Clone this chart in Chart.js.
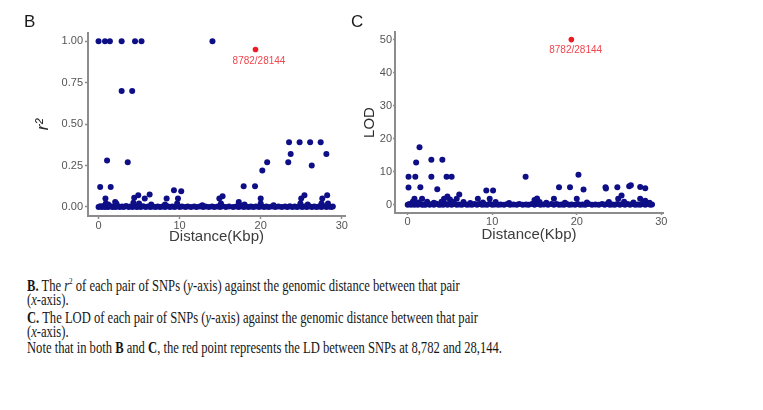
<!DOCTYPE html>
<html><head><meta charset="utf-8">
<script src="https://cdn.jsdelivr.net/npm/chart.js@4.4.1/dist/chart.umd.min.js"></script>
<style>
html,body{margin:0;padding:0;background:#fff;}
body{width:763px;height:410px;position:relative;overflow:hidden;font-family:"Liberation Sans",Arial,sans-serif;}
canvas{position:absolute;top:0;}
#cB{left:0;} #cC{left:360px;}
.pl{position:absolute;font-size:17px;color:#1a1a1a;line-height:20px;}
.cap{position:absolute;left:27px;font-family:"Liberation Serif","Times New Roman",serif;font-size:16px;line-height:16px;color:#161616;white-space:nowrap;transform-origin:0 50%;}
.cap sup{font-size:9px;vertical-align:7px;line-height:0;}
</style></head><body>
<canvas id="cB" width="360" height="250"></canvas>
<canvas id="cC" width="340" height="250"></canvas>
<div class="pl" style="left:24px;top:12px">B</div>
<div class="pl" style="left:351px;top:12px">C</div>
<div class="cap" style="top:278px"><b>B.</b> The <i>r</i><sup>2</sup> of each pair of SNPs (<i>y</i>-axis) against the genomic distance between that pair</div>
<div class="cap" style="top:292px">(<i>x</i>-axis).</div>
<div class="cap" style="top:310px"><b>C.</b> The LOD of each pair of SNPs (<i>y</i>-axis) against the genomic distance between that pair</div>
<div class="cap" style="top:324px">(<i>x</i>-axis).</div>
<div class="cap" style="top:340px">Note that in both <b>B</b> and <b>C</b>, the red point represents the LD between SNPs at 8,782 and 28,144.</div>
<script>
// ---- tick values / labels ----
const distTicks = [0, 10, 20, 30];
const r2Ticks = [0, 0.25, 0.5, 0.75, 1];
const r2TickLabels = ['0.00', '0.25', '0.50', '0.75', '1.00'];
const lodTicks = [0, 10, 20, 30, 40, 50];
const lodTickLabels = ['0', '10', '20', '30', '40', '50'];

// ---- highlighted pair ----
const redLabel = '8782/28144';
const redDist = [19.36];
const redR2 = [0.95];
const redLod = [50];

// ---- B: r^2, distinct points ----
const r2Dist = [0.0, 0.8, 1.4, 2.85, 4.5, 5.3, 14.05, 2.85, 4.15, 1.05, 3.6, 0.2, 1.5,
  0.85, 2.05, 4.4, 4.9, 5.7, 6.3, 8.4, 9.3, 10.2, 9.8, 14.9, 15.3, 17.3, 17.9, 19.3, 20.0,
  20.2, 20.8, 23.4, 23.7, 23.5, 24.8, 26.1, 27.4, 25.0, 25.4, 26.3, 27.6, 28.1, 28.2,
  0.9, 1.2, 2.2, 4.3, 5.0, 6.5, 8.2, 9.7, 12.8, 15.1, 17.3, 18.0, 20.0, 21.6, 24.9, 25.8, 27.5, 28.3];
const r2Val = [1.0, 1.0, 1.0, 1.0, 1.0, 1.0, 1.0, 0.70, 0.70, 0.28, 0.27, 0.12, 0.12,
  0.05, 0.03, 0.055, 0.07, 0.05, 0.075, 0.05, 0.10, 0.095, 0.05, 0.05, 0.065, 0.03, 0.125, 0.125, 0.05,
  0.22, 0.27, 0.27, 0.32, 0.39, 0.39, 0.39, 0.39, 0.05, 0.07, 0.25, 0.05, 0.32, 0.07,
  0.02, 0.015, 0.02, 0.025, 0.02, 0.015, 0.015, 0.02, 0.01, 0.02, 0.015, 0.015, 0.02, 0.01, 0.02, 0.015, 0.02, 0.02];

// ---- C: LOD, distinct points ----
const lodDist = [0.1, 0.9, 0.1, 1.0, 1.4, 1.5, 0.8, 1.7, 2.8, 2.8, 3.5, 4.1, 4.6, 5.2, 4.3, 4.7, 5.0,
  6.1, 5.8, 8.3, 9.3, 10.1, 9.7, 13.95, 15.0, 15.3, 17.3, 17.9, 19.2, 20.2, 20.0, 20.8,
  23.4, 23.45, 24.8, 24.9, 25.3, 26.2, 26.4, 27.5, 28.1, 27.5, 28.1,
  0.6, 1.3, 2.3, 3.1, 4.0, 5.4, 6.6, 7.4, 8.9, 10.4, 12.0, 15.6, 16.4, 18.6, 21.2, 23.8, 25.6, 26.7, 27.9, 28.6];
const lodVal = [8.5, 8.5, 5.2, 12.8, 17.4, 5.3, 1.8, 1.8, 13.6, 8.5, 4.7, 13.6, 8.5, 8.5, 1.8, 2.5, 1.6,
  3.1, 1.8, 1.8, 4.3, 4.3, 1.8, 8.5, 1.4, 1.9, 1.8, 5.3, 5.3, 9.1, 1.8, 4.6,
  5.3, 4.9, 5.3, 1.8, 2.8, 5.6, 5.9, 5.4, 5.0, 1.8, 1.2,
  0.9, 0.7, 0.9, 0.6, 0.9, 0.8, 0.8, 0.5, 0.7, 0.8, 0.5, 0.8, 0.6, 0.6, 0.7, 0.8, 0.9, 0.7, 0.8, 0.6];

// ---- dense band of pairs near zero (both panels) ----
const bandDist = [0.0, 0.2, 0.4, 0.6, 0.8, 1.0, 1.2, 1.4, 1.7, 1.9,
  2.1, 2.4, 2.6, 2.9, 3.1, 3.4, 3.7, 3.9, 4.2, 4.4,
  4.7, 4.9, 5.2, 5.5, 5.8, 6.1, 6.4, 6.7, 7.0, 7.3,
  7.6, 7.9, 8.2, 8.5, 8.8, 9.1, 9.4, 9.7, 10.0, 10.3,
  10.7, 11.0, 11.4, 11.8, 12.1, 12.5, 12.9, 13.2, 13.6, 14.0,
  14.3, 14.7, 15.0, 15.3, 15.7, 16.1, 16.6, 17.0, 17.3, 17.6,
  17.9, 18.2, 18.5, 18.8, 19.1, 19.4, 19.8, 20.1, 20.4, 20.7,
  21.0, 21.4, 21.8, 22.2, 22.6, 23.0, 23.3, 23.6, 23.9, 24.2,
  24.5, 24.8, 25.1, 25.4, 25.7, 26.0, 26.3, 26.6, 26.9, 27.2,
  27.5, 27.8, 28.1, 28.4, 28.7, 28.9];
const r2BandVal = [0, 0.004, 0, 0.006, 0, 0.003, 0, 0.005, 0, 0.002,
  0, 0.004, 0, 0.003, 0, 0.005, 0, 0.002, 0, 0.006,
  0, 0.003, 0, 0.004, 0, 0.002, 0, 0.003, 0, 0.002,
  0, 0.003, 0, 0.004, 0, 0.002, 0, 0.005, 0, 0.002,
  0, 0.002, 0, 0.003, 0, 0.002, 0, 0.003, 0, 0.002,
  0, 0.003, 0, 0.004, 0, 0.002, 0, 0.003, 0, 0.004,
  0, 0.002, 0, 0.003, 0, 0.002, 0, 0.004, 0, 0.002,
  0, 0.003, 0, 0.002, 0, 0.003, 0, 0.004, 0, 0.002,
  0, 0.004, 0, 0.003, 0, 0.004, 0, 0.003, 0, 0.002,
  0, 0.004, 0, 0.003, 0, 0.002];
const lodBandVal = [0, 0.2, 0, 0.3, 0, 0.2, 0, 0.3, 0, 0.1,
  0, 0.2, 0, 0.2, 0, 0.3, 0, 0.1, 0, 0.3,
  0, 0.2, 0, 0.2, 0, 0.1, 0, 0.2, 0, 0.1,
  0, 0.2, 0, 0.2, 0, 0.1, 0, 0.3, 0, 0.1,
  0, 0.1, 0, 0.2, 0, 0.1, 0, 0.2, 0, 0.1,
  0, 0.2, 0, 0.2, 0, 0.1, 0, 0.2, 0, 0.2,
  0, 0.1, 0, 0.2, 0, 0.1, 0, 0.2, 0, 0.1,
  0, 0.2, 0, 0.1, 0, 0.2, 0, 0.2, 0, 0.1,
  0, 0.2, 0, 0.2, 0, 0.2, 0, 0.2, 0, 0.1,
  0, 0.2, 0, 0.2, 0, 0.1];

const BLUE = '#0e0e86';
const RED = '#ee1a22';
const AXIS = '#8c8c8c';
const TICKTXT = '#555555';
const FONT = '"Liberation Sans", Arial, sans-serif';

function pts(xs, ys) { return xs.map((x, i) => ({ x: x, y: ys[i] })); }

const redLabelPlugin = {
  id: 'redLabel',
  afterDatasetsDraw(chart, args, opts) {
    const pt = chart.getDatasetMeta(0).data[0];
    const ctx = chart.ctx;
    ctx.save();
    ctx.font = '10px ' + FONT;
    ctx.fillStyle = '#f0464e';
    ctx.textAlign = 'center';
    ctx.textBaseline = 'middle';
    ctx.fillText(redLabel, pt.x + opts.dx, pt.y + opts.dy);
    ctx.restore();
  }
};

function makeChart(id, o) {
  return new Chart(document.getElementById(id), {
    type: 'scatter',
    data: {
      datasets: [
        { data: pts(redDist, o.red), backgroundColor: RED, borderWidth: 0, pointRadius: 2.8 },
        { data: pts(o.dist, o.val), backgroundColor: BLUE, borderWidth: 0, pointRadius: 3 },
        { data: pts(bandDist, o.band), backgroundColor: BLUE, borderWidth: 0, pointRadius: 3 }
      ]
    },
    plugins: [redLabelPlugin],
    options: {
      responsive: false, animation: false, events: [], devicePixelRatio: 1,
      layout: { padding: o.pad },
      plugins: { legend: { display: false }, tooltip: { enabled: false }, redLabel: o.lab },
      scales: {
        x: {
          type: 'linear', min: o.xmin, max: o.xmax,
          afterBuildTicks: s => { s.ticks = distTicks.map(v => ({ value: v })); },
          afterFit: s => { s.height = o.xh; },
          ticks: { callback: (v, i) => String(distTicks[i]), font: { size: 11, family: FONT }, color: TICKTXT, padding: o.xtp, maxRotation: 0, autoSkip: false },
          grid: { display: true, drawOnChartArea: false, drawTicks: true, tickLength: o.tl, tickWidth: 1.5, tickColor: AXIS, color: AXIS },
          border: { display: true, color: AXIS, width: 2 },
          title: { display: true, text: 'Distance(Kbp)', font: { size: 15, family: FONT }, color: '#3c3c3c', padding: { top: 0, bottom: o.xtb } }
        },
        y: {
          type: 'linear', min: o.ymin, max: o.ymax,
          afterBuildTicks: s => { s.ticks = o.yt.map(v => ({ value: v })); },
          afterFit: s => { s.width = o.yw; },
          ticks: { callback: (v, i) => o.ytl[i], font: { size: 11, family: FONT }, color: TICKTXT, padding: o.ytp, autoSkip: false },
          grid: { display: true, drawOnChartArea: false, drawTicks: true, tickLength: o.tl, tickWidth: 1.5, tickColor: AXIS, color: AXIS },
          border: { display: true, color: AXIS, width: 2 },
          title: { display: true, text: o.ytitle, font: { size: o.yts, family: FONT, style: o.ystyle }, color: '#2a2a2a', padding: { top: o.ytt, bottom: 0 } }
        }
      }
    }
  });
}

makeChart('cB', {
  dist: r2Dist, val: r2Val, band: r2BandVal, red: redR2,
  pad: { left: 0, top: 33, right: 15, bottom: 0 },
  xmin: -1.3, xmax: 30.4, ymin: -0.055, ymax: 1.05,
  xh: 34, yw: 88, xtp: 0, ytp: 2, tl: 3, xtb: 4, ytt: 33, yts: 17,
  yt: r2Ticks, ytl: r2TickLabels, ytitle: 'r²', ystyle: 'italic',
  lab: { dx: 3.5, dy: 11.5 }
});
makeChart('cC', {
  dist: lodDist, val: lodVal, band: lodBandVal, red: redLod,
  pad: { left: 0, top: 32, right: 37, bottom: 0 },
  xmin: -1.5, xmax: 30.2, ymin: -2.5, ymax: 52.3,
  xh: 37, yw: 35, xtp: 0, ytp: 1, tl: 2, xtb: 6, ytt: 1, yts: 15,
  yt: lodTicks, ytl: lodTickLabels, ytitle: 'LOD', ystyle: 'normal',
  lab: { dx: 4.3, dy: 10.7 }
});

// caption: the reference text is horizontally condensed
const caps = Array.from(document.querySelectorAll('.cap'));
const nat = caps[4].getBoundingClientRect().width;
const sx = 475 / nat;
caps.forEach(c => { c.style.transform = 'scaleX(' + sx + ')'; });
</script>
</body></html>
